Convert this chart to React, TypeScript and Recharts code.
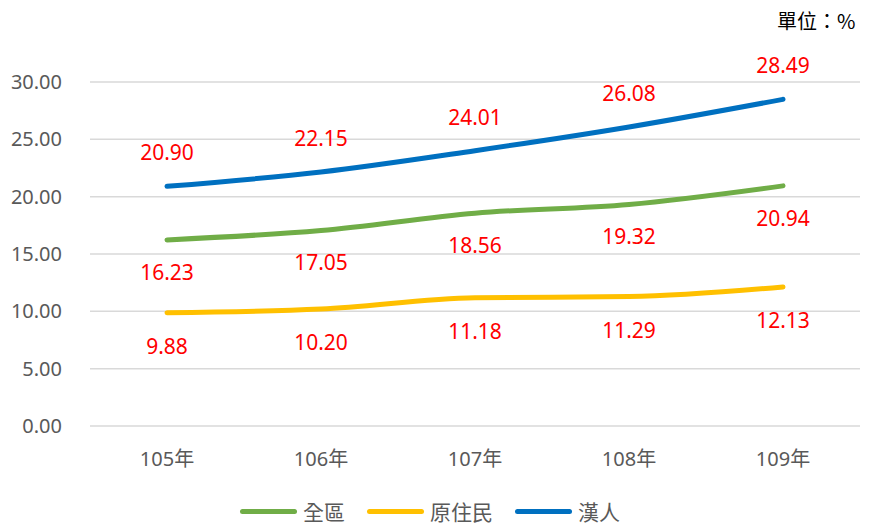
import React from 'react'
import { LineChart, Line, XAxis, YAxis, CartesianGrid, Legend, LabelList } from 'recharts'

const years = ['105年', '106年', '107年', '108年', '109年']
const allRegion = [16.23, 17.05, 18.56, 19.32, 20.94]
const indigenous = [9.88, 10.2, 11.18, 11.29, 12.13]
const han = [20.9, 22.15, 24.01, 26.08, 28.49]
const yTicks = [0, 5, 10, 15, 20, 25, 30]

const SERIES = [
  { key: 'all', name: '全區', color: '#70AD47', labelDy: 40 },
  { key: 'ind', name: '原住民', color: '#FFC000', labelDy: 41 },
  { key: 'han', name: '漢人', color: '#0070C0', labelDy: -26 },
]

const data = years.map((year, i) => ({
  year,
  all: allRegion[i],
  ind: indigenous[i],
  han: han[i],
}))

const FONT = '"Noto Sans", "Noto Sans CJK TC", sans-serif'

function makeLabel(dy: number) {
  return (props: any) => {
    const { x, y, value } = props
    return (
      <text x={x} y={y + dy} textAnchor="middle" fill="#FF0000" fontSize={21} fontFamily={FONT}>
        {Number(value).toFixed(2)}
      </text>
    )
  }
}

function LegendContent() {
  return (
    <div style={{ display: 'flex', justifyContent: 'center', alignItems: 'center', paddingTop: 30, gap: 22, fontFamily: FONT }}>
      {SERIES.map(s => (
        <div key={s.key} style={{ display: 'flex', alignItems: 'center' }}>
          <div style={{ width: 57, height: 5, borderRadius: 3, background: s.color, marginRight: 6 }} />
          <span style={{ fontSize: 21, color: '#595959' }}>{s.name}</span>
        </div>
      ))}
    </div>
  )
}

export default function App() {
  return (
    <div style={{ position: 'relative', width: 874, height: 525, background: '#fff' }}>
      <style>{'body{margin:0}'}</style>
      <div style={{ position: 'absolute', top: 6, left: 777, fontSize: 20, fontFamily: '"Noto Sans CJK TC", sans-serif', color: '#000' }}>
        單位：%
      </div>
      <LineChart width={874} height={525} data={data} margin={{ top: 82, right: 14, bottom: 0, left: 0 }}>
        <CartesianGrid vertical={false} stroke="#D9D9D9" strokeWidth={1.5} />
        <XAxis
          dataKey="year"
          axisLine={false}
          tickLine={false}
          tickSize={0}
          tickMargin={26}
          height={40}
          tick={{ fill: '#595959', fontSize: 20, fontFamily: FONT }}
          padding={{ left: 77, right: 77 }}
        />
        <YAxis
          domain={[0, 30]}
          ticks={yTicks}
          width={90}
          axisLine={false}
          tickLine={false}
          tickSize={0}
          tickMargin={28}
          tickFormatter={(v: number) => v.toFixed(2)}
          tick={{ fill: '#595959', fontSize: 20, fontFamily: FONT }}
        />
        <Legend verticalAlign="bottom" height={59} content={<LegendContent />} />
        {SERIES.map(s => (
          <Line
            key={s.key}
            type="monotone"
            dataKey={s.key}
            name={s.name}
            stroke={s.color}
            strokeWidth={5}
            strokeLinecap="round"
            dot={false}
            activeDot={false}
            isAnimationActive={false}
          >
            <LabelList dataKey={s.key} content={makeLabel(s.labelDy)} />
          </Line>
        ))}
      </LineChart>
    </div>
  )
}
